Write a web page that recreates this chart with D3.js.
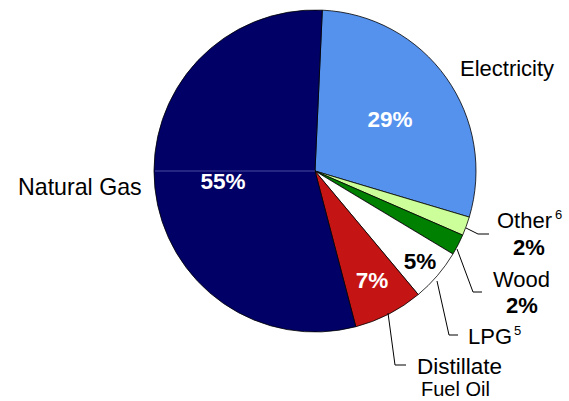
<!DOCTYPE html>
<html>
<head>
<meta charset="utf-8">
<script src="https://cdn.jsdelivr.net/npm/d3@7"></script>
<style>
  body { margin: 0; background: #fff; }
  text { font-family: Arial, "Liberation Sans", sans-serif; }
</style>
</head>
<body>
<div id="chart"></div>
<script>
// slices, clockwise from 12 o'clock
const categories = ["Electricity", "Other", "Wood", "LPG", "Distillate Fuel Oil", "Natural Gas"];
const values = [28.9, 1.9, 2.1, 5.3, 7.0, 54.8];
const pctLabels = ["29%", "2%", "2%", "5%", "7%", "55%"];
const colors = ["#5592ee", "#ccff99", "#008000", "#ffffff", "#c41414", "#000066"];

const width = 569, height = 401;
const cx = 315, cy = 171, radius = 161;

const svg = d3.select("#chart")
  .append("svg")
    .attr("width", width)
    .attr("height", height);

const g = svg.append("g")
    .attr("transform", `translate(${cx},${cy})`);

const startDeg = 2.6;
const pie = d3.pie()
    .sort(null)
    .value(d => d.value)
    .startAngle(startDeg * Math.PI / 180)
    .endAngle((startDeg + 360) * Math.PI / 180);

const data = categories.map((c, i) => ({name: c, value: values[i], color: colors[i], pct: pctLabels[i]}));
const arcs = pie(data);

const arc = d3.arc().innerRadius(0).outerRadius(radius);

g.selectAll("path")
  .data(arcs)
  .join("path")
    .attr("d", arc)
    .attr("fill", d => d.data.color)
    .attr("stroke", "#000")
    .attr("stroke-width", 0.8);

// faint seam line inside the natural gas slice
g.append("line")
    .attr("x1", -radius + 1).attr("y1", 0)
    .attr("x2", 0).attr("y2", 0)
    .attr("stroke", "#4a4aa0")
    .attr("stroke-width", 1);

// percentage labels inside slices
const inside = [
  {i: 0, x: 390, y: 127, fill: "#fff"},
  {i: 5, x: 223, y: 189, fill: "#fff"},
  {i: 4, x: 372, y: 288, fill: "#fff"},
  {i: 3, x: 420, y: 269, fill: "#000"}
];
svg.append("g").selectAll("text")
  .data(inside)
  .join("text")
    .attr("x", d => d.x)
    .attr("y", d => d.y)
    .attr("text-anchor", "middle")
    .attr("font-size", 22.5)
    .attr("font-weight", "bold")
    .attr("fill", d => d.fill)
    .text(d => pctLabels[d.i]);

// outside labels
const lab = svg.append("g").attr("font-size", 22).attr("fill", "#000");
lab.append("text").attr("x", 460).attr("y", 76).text("Electricity");
lab.append("text").attr("x", 18).attr("y", 195).attr("font-size", 23.2).text("Natural Gas");

const other = lab.append("text").attr("x", 497).attr("y", 228);
other.append("tspan").text("Other");
other.append("tspan").attr("dx", 3).attr("dy", -9).attr("font-size", 13).text("6");
lab.append("text").attr("x", 529).attr("y", 255).attr("text-anchor", "middle")
    .attr("font-weight", "bold").text(pctLabels[1]);

lab.append("text").attr("x", 493).attr("y", 287).text("Wood");
lab.append("text").attr("x", 522).attr("y", 313).attr("text-anchor", "middle")
    .attr("font-weight", "bold").text(pctLabels[2]);

const lpg = lab.append("text").attr("x", 468).attr("y", 344);
lpg.append("tspan").text("LPG");
lpg.append("tspan").attr("dx", 2).attr("dy", -9).attr("font-size", 13).text("5");

lab.append("text").attr("x", 417).attr("y", 374).attr("font-size", 22.5).text("Distillate");
lab.append("text").attr("x", 421).attr("y", 396).attr("font-size", 20).text("Fuel Oil");

// leader lines
const leaders = [
  [[466, 228], [478, 234], [489, 234]],
  [[457, 249], [473, 292], [482, 292]],
  [[437, 281], [449, 335], [458, 335]],
  [[388, 313], [395, 365], [406, 365]]
];
svg.append("g").selectAll("path")
  .data(leaders)
  .join("path")
    .attr("d", d3.line())
    .attr("fill", "none")
    .attr("stroke", "#000")
    .attr("stroke-width", 1);
</script>
</body>
</html>
